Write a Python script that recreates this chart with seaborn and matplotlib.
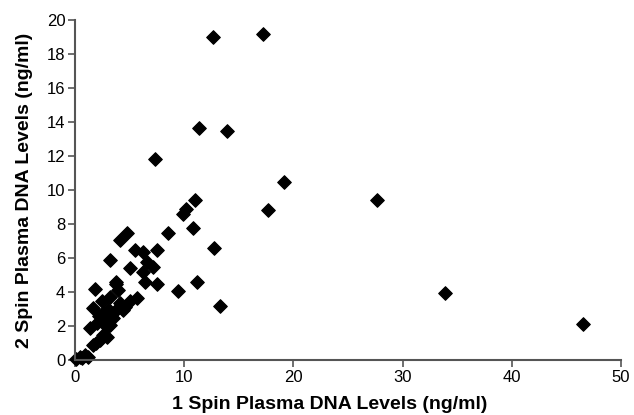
import numpy as np
import pandas as pd
import matplotlib
matplotlib.use("Agg")
import matplotlib.pyplot as plt
import seaborn as sns

# values
spin1 = [12.6, 17.2, 11.35, 13.9, 7.3, 19.1, 27.7, 11.0, 10.2, 9.9, 17.7,
         12.7, 13.3, 33.9, 46.5, 10.8, 8.5, 4.75, 4.1, 3.2, 5.5, 6.2, 7.5,
         5.0, 6.2, 7.1, 6.6, 6.4, 7.5, 9.4, 11.2, 3.8, 5.7, 5.0,
         1.8, 3.75, 3.9, 1.65, 2.5, 3.2, 4.1, 4.4, 2.6, 3.5, 1.4, 2.0,
         2.9, 2.6, 1.65, 2.3, 2.9, 3.2, 3.8, 0.45, 0.1, 1.2, 0.9,
         2.2, 3.0, 1.9, 2.7, 3.4, 4.6, 0.6]
spin2 = [19.0, 19.2, 13.65, 13.5, 11.8, 10.5, 9.4, 9.4, 8.9, 8.6, 8.8,
         6.6, 3.2, 3.95, 2.1, 7.75, 7.5, 7.45, 7.05, 5.9, 6.5, 6.35, 6.5,
         5.4, 5.2, 5.5, 5.75, 4.6, 4.5, 4.05, 4.6, 4.5, 3.65, 3.5,
         4.2, 4.6, 4.1, 3.05, 3.5, 3.7, 3.35, 2.95, 2.75, 2.5, 1.9, 2.2,
         1.95, 1.5, 0.9, 1.2, 1.35, 2.05, 2.95, 0.2, 0.05, 0.15, 0.3,
         2.6, 3.0, 1.0, 2.3, 2.7, 3.1, 0.1]

df = pd.DataFrame({"spin1": spin1, "spin2": spin2})

sns.set_theme(style="ticks")
plt.rcParams['font.family'] = ['Liberation Sans', 'DejaVu Sans']

fig = plt.figure(figsize=(6.34, 4.15), dpi=100)
ax = fig.add_axes([0.1183, 0.1325, 0.8612, 0.8193])
sns.scatterplot(data=df, x="spin1", y="spin2", ax=ax, marker="D", s=48,
                color="black", edgecolor="black", linewidth=0.8, clip_on=False)

ax.set_xlim(0, 50)
ax.set_ylim(0, 20)
ax.set_xticks(np.arange(0, 51, 10))
ax.set_yticks(np.arange(0, 21, 2))
ax.tick_params(labelsize=12, labelcolor="black", color="#555555", length=5, width=1.2, pad=2)
sns.despine(ax=ax)
for s in ["left", "bottom"]:
    ax.spines[s].set_color("#555555")
    ax.spines[s].set_linewidth(1.5)

ax.set_xlabel("1 Spin Plasma DNA Levels (ng/ml)", fontsize=14, fontweight="bold", color="black")
ax.set_ylabel("2 Spin Plasma DNA Levels (ng/ml)", fontsize=14, fontweight="bold", color="black", labelpad=10)
ax.xaxis.set_label_coords(0.467, -0.105)

fig.savefig("out.png", dpi=100)
